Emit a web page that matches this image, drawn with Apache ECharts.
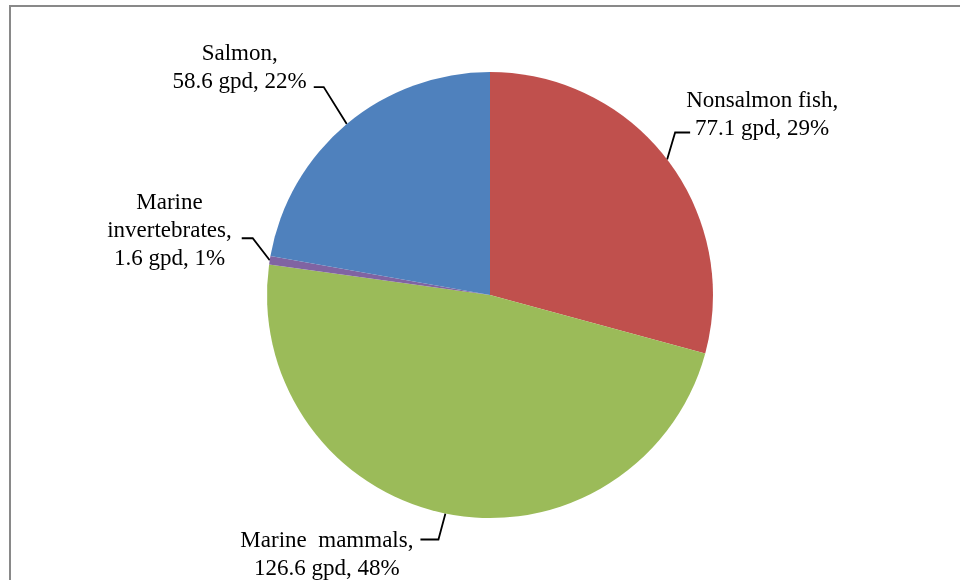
<!DOCTYPE html>
<html>
<head>
<meta charset="utf-8">
<script src="https://cdn.jsdelivr.net/npm/echarts@6/dist/echarts.min.js"></script>
<style>
  html, body { margin: 0; padding: 0; background: #fff; }
  #chart { width: 960px; height: 580px; }
</style>
</head>
<body>
<div id="chart"></div>
<script>
// data, clockwise from 12 o'clock
const categories = ['Nonsalmon fish', 'Marine mammals', 'Marine invertebrates', 'Salmon']
const labelNames = ['Nonsalmon fish,', 'Marine  mammals,', 'Marine\ninvertebrates,', 'Salmon,']
const gpdValues = [77.1, 126.6, 1.6, 58.6]
const sliceColors = ['#C0504D', '#9BBB59', '#8064A2', '#4F81BD']

// leader line shape per label: kink offset from slice edge, horizontal run, text offset
const leaderStyle = [
  { kx: 8, ky: -27, h: 15, tx: -4, ty: -18 },
  { kx: -7, ky: 26, h: -18, tx: -7, ty: 15 },
  { kx: -17, ky: -22, h: -11, tx: -10, ty: -7 },
  { kx: -23, ky: -37, h: -10, tx: -7, ty: -19 }
]

const chart = echarts.init(document.getElementById('chart'))

const pieData = categories.map((name, i) => {
  return {
    name: name,
    value: gpdValues[i],
    itemStyle: { color: sliceColors[i] }
  }
})

const option = {
  animation: false,
  graphic: [
    {
      type: 'rect',
      shape: { x: 10, y: 6, width: 970, height: 600 },
      style: { fill: 'none', stroke: '#898989', lineWidth: 2 },
      silent: true
    }
  ],
  series: [
    {
      type: 'pie',
      center: [490, 295],
      radius: 223,
      startAngle: 90,
      clockwise: true,
      percentPrecision: 0,
      avoidLabelOverlap: false,
      data: pieData,
      label: {
        show: true,
        position: 'outside',
        alignTo: 'none',
        fontFamily: 'Liberation Serif',
        fontSize: 23,
        lineHeight: 28,
        color: '#000',
        formatter: (p) => {
          const idx = categories.indexOf(p.name)
          const lines = (labelNames[idx] + '\n' + p.value + ' gpd, ' + p.percent + '%').split('\n')
          return lines.map(l => '{t|' + l + '}').join('\n')
        },
        rich: {
          t: {
            align: 'center',
            fontFamily: 'Liberation Serif',
            fontSize: 23,
            lineHeight: 28,
            color: '#000'
          }
        }
      },
      labelLine: {
        show: true,
        length: 20,
        length2: 10,
        lineStyle: { color: '#000', width: 1.8 }
      },
      labelLayout: (params) => {
        const s = leaderStyle[params.dataIndex]
        const edge = params.labelLinePoints[0]
        const kink = [edge[0] + s.kx, edge[1] + s.ky]
        const end = [kink[0] + s.h, kink[1]]
        const toRight = s.h > 0
        return {
          x: end[0] + s.tx * (toRight ? 1 : 1),
          y: end[1] + s.ty,
          align: toRight ? 'left' : 'right',
          verticalAlign: 'middle',
          labelLinePoints: [edge, kink, end]
        }
      }
    }
  ]
}

chart.setOption(option)
</script>
</body>
</html>
